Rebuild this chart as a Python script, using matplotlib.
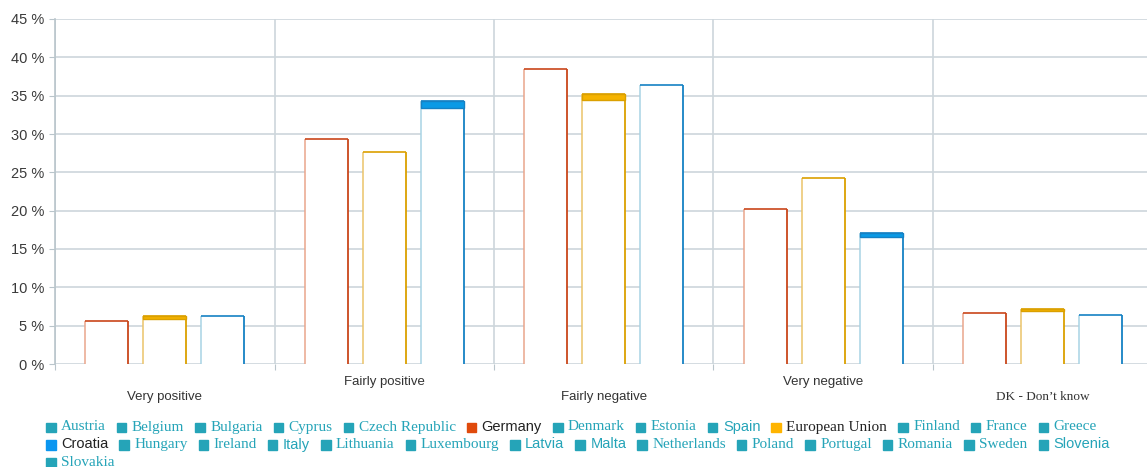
import matplotlib
matplotlib.use('Agg')
import matplotlib.pyplot as plt
import numpy as np

categories = ['Very positive', 'Fairly positive', 'Fairly negative', 'Very negative', 'DK - Don\u2019t know']
germany = [5.6, 29.3, 38.5, 20.2, 6.6]
eu = [6.3, 27.6, 35.2, 24.3, 7.2]
croatia = [6.3, 34.3, 36.4, 17.1, 6.4]

legend_names = ['Austria', 'Belgium', 'Bulgaria', 'Cyprus', 'Czech Republic', 'Germany',
                'Denmark', 'Estonia', 'Spain', 'European Union', 'Finland', 'France', 'Greece',
                'Croatia', 'Hungary', 'Ireland', 'Italy', 'Lithuania', 'Luxembourg', 'Latvia',
                'Malta', 'Netherlands', 'Poland', 'Portugal', 'Romania', 'Sweden', 'Slovenia',
                'Slovakia']
sans_names = ['Germany', 'Spain', 'Croatia', 'Italy', 'Latvia', 'Malta', 'Slovenia']
row_breaks = ['Croatia', 'Slovakia']

teal = '#25a4b8'
series = [
    # values, light edge, dark edge, cap fill, cap height (px) per category
    (germany, '#eaa58c', '#c9461a', None, [0, 0, 0, 0, 0]),
    (eu, '#ebc46a', '#dba000', '#f5b300', [3, 0, 6, 0, 2]),
    (croatia, '#a8d3e4', '#1581c4', '#0a9ae6', [0, 7, 0, 4, 0]),
]
marker_colors = {'Germany': '#e04a0c', 'European Union': '#ffb400', 'Croatia': '#0a96f0'}
cat_fonts = ['Liberation Sans', 'Liberation Sans', 'Liberation Sans', 'Liberation Sans', 'Liberation Serif']

W, H = 1147, 467
fig = plt.figure(figsize=(W / 100, H / 100), dpi=100)
ax = fig.add_axes([55 / W, 103 / H, (1152.5 - 55) / W, 345 / H])

x = np.arange(len(categories))
offsets = [-0.264, 0.0, 0.264]
bw = 0.196
px = 45 / 345.0  # data units per pixel

for (vals, light, dark, capc, caps), off in zip(series, offsets):
    bars = ax.bar(x + off, vals, bw, color='white', zorder=3, linewidth=0)
    for rect, v, cap in zip(bars, vals, caps):
        x0 = rect.get_x()
        x1 = x0 + rect.get_width()
        ax.vlines(x0, 0, v, color=light, lw=1.1, zorder=4)
        ax.vlines(x1, 0, v, color=dark, lw=1.3, zorder=4)
        ax.hlines(v, x0, x1, color=dark, lw=1.2, zorder=4)
        if cap:
            ax.bar(rect.get_x() + rect.get_width() / 2, cap * px, rect.get_width(),
                   bottom=v - cap * px, color=capc, edgecolor=dark, lw=1.0, zorder=5)

ax.set_ylim(0, 45)
ax.set_xlim(-0.5, 4.5)
ax.set_yticks(np.arange(0, 46, 5))
ax.set_yticklabels(['%d %%' % t for t in range(0, 46, 5)], fontsize=10.5,
                   family='Liberation Sans', color='#3a3a3a')
ax.set_xticks(np.arange(-0.5, 4.6, 1))
ax.set_xticklabels([])
ax.tick_params(axis='y', length=4, color='#b9c5cb', pad=4)
ax.tick_params(axis='x', length=4, color='#b9c5cb')
ax.grid(True, color='#cdd6db', lw=1.2, zorder=1)
ax.set_axisbelow(True)
for s in ['top', 'right', 'bottom']:
    ax.spines[s].set_visible(False)
ax.spines['left'].set_color('#b9c5cb')
ax.spines['left'].set_linewidth(1.2)

# category labels, staggered on two lines
for i, (c, f) in enumerate(zip(categories, cat_fonts)):
    yl = 397 if i % 2 == 0 else 382
    ax.text(x[i], 1 - (yl - 19) / 345.0, c, transform=ax.get_xaxis_transform(),
            ha='center', va='center', fontsize=9.5, family=f, color='#333333')

# legend flowed across the bottom of the figure
renderer = fig.canvas.get_renderer()
lx, ly = 46, 427
for name in legend_names:
    if name in row_breaks:
        lx = 46
        ly += 17.5
    mc = marker_colors.get(name, teal)
    tc = '#222222' if name in marker_colors else teal
    fam = 'Liberation Sans' if name in sans_names else 'Liberation Serif'
    fs = 10.5 if name in sans_names else 11
    fig.patches.append(plt.Rectangle((lx / W, 1 - (ly + 5) / H), 9.5 / W, 9.5 / H,
                                     transform=fig.transFigure, color=mc))
    t = fig.text((lx + 15) / W, 1 - ly / H, name, ha='left', va='center',
                 fontsize=fs, family=fam, color=tc)
    w = t.get_window_extent(renderer).width
    lx += 15 + w + 11

fig.savefig('out.png', dpi=100)
